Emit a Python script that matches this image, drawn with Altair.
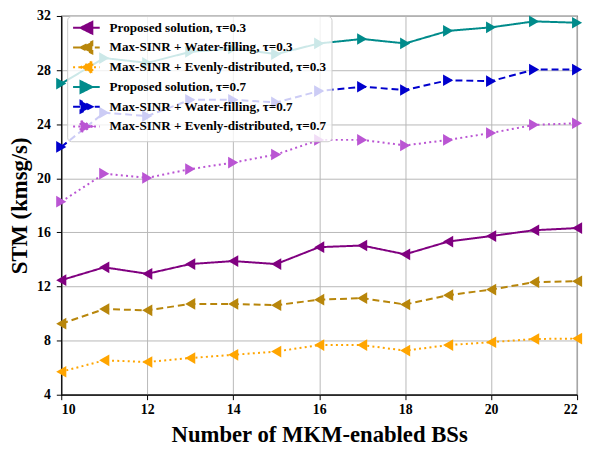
import altair as alt
import pandas as pd

x_vals = [10, 11, 12, 13, 14, 15, 16, 17, 18, 19, 20, 21, 22]

series_names = [
    "Proposed solution, τ=0.3",
    "Max-SINR + Water-filling, τ=0.3",
    "Max-SINR + Evenly-distributed, τ=0.3",
    "Proposed solution, τ=0.7",
    "Max-SINR + Water-filling, τ=0.7",
    "Max-SINR + Evenly-distributed, τ=0.7",
]

prop_03 = [12.47, 13.42, 12.94, 13.66, 13.88, 13.66, 14.91, 15.03, 14.38, 15.32, 15.73, 16.16, 16.32]
wf_03 = [9.25, 10.33, 10.24, 10.71, 10.71, 10.62, 11.03, 11.14, 10.67, 11.36, 11.77, 12.32, 12.39]
even_03 = [5.70, 6.54, 6.42, 6.71, 6.95, 7.19, 7.67, 7.67, 7.26, 7.67, 7.88, 8.12, 8.15]
prop_07 = [27.00, 28.89, 28.53, 29.35, 29.60, 29.18, 29.97, 30.30, 29.97, 30.90, 31.16, 31.60, 31.50]
wf_07 = [22.32, 24.85, 24.60, 25.80, 25.80, 25.61, 26.45, 26.77, 26.53, 27.25, 27.18, 28.04, 28.04]
even_07 = [18.27, 20.34, 20.03, 20.68, 21.16, 21.76, 22.84, 22.84, 22.43, 22.84, 23.35, 23.95, 24.07]

all_series = [prop_03, wf_03, even_03, prop_07, wf_07, even_07]

colors = ["#800080", "#b8860b", "#ffa500", "#008b8b", "#0000cd", "#ba55d3"]
dashes = [[1, 0], [7, 4], [2, 3.3], [1, 0], [7, 4], [2, 3.3]]
shapes = ["triangle-left", "triangle-left", "triangle-left",
          "triangle-right", "triangle-right", "triangle-right"]
# legend symbols: line segment plus triangle (units of 6 px)
tri_l = "M-1,0H3.5M0.25,0L2.25,-1L2.25,1Z"
tri_r = "M-1,0H3.5M2.25,0L0.25,-1L0.25,1Z"
legend_shapes = [tri_l, tri_l, tri_l, tri_r, tri_r, tri_r]

rows = []
for name, vals in zip(series_names, all_series):
    for xv, yv in zip(x_vals, vals):
        rows.append({"x": xv, "y": yv, "series": name})
df = pd.DataFrame(rows)

FONT = "Liberation Serif"

x_enc = alt.X("x:Q", scale=alt.Scale(domain=[10, 22], nice=False, zero=False),
              axis=alt.Axis(values=[10, 12, 14, 16, 18, 20, 22], title="Number of MKM-enabled BSs",
                            format="d", titlePadding=7))
y_enc = alt.Y("y:Q", scale=alt.Scale(domain=[4, 32], nice=False, zero=False),
              axis=alt.Axis(values=[4, 8, 12, 16, 20, 24, 28, 32], title="STM (kmsg/s)",
                            format="d", labelPadding=6, titlePadding=5, titleFontSize=23))

color_scale = alt.Scale(domain=series_names, range=colors)
dash_scale = alt.Scale(domain=series_names, range=dashes)

lines = alt.Chart(df).mark_line(strokeWidth=2).encode(
    x=x_enc, y=y_enc,
    color=alt.Color("series:N", scale=color_scale, legend=None),
    strokeDash=alt.StrokeDash("series:N", scale=dash_scale, legend=None),
    detail="series:N",
)

points = alt.Chart(df).mark_point(filled=True, size=140, opacity=1).encode(
    x=x_enc, y=y_enc,
    color=alt.Color("series:N", scale=color_scale, legend=None),
    shape=alt.Shape("series:N", scale=alt.Scale(domain=series_names, range=shapes), legend=None),
)

leg = alt.Legend(orient="none", legendX=6, legendY=0, zindex=1)
legend_layer = alt.Chart(df).transform_filter("false").mark_point(
    filled=True, size=144, opacity=1, strokeWidth=2
).encode(
    x=x_enc, y=y_enc,
    fill=alt.Fill("series:N", scale=alt.Scale(domain=series_names, range=colors), title=None, legend=leg),
    stroke=alt.Stroke("series:N", scale=alt.Scale(domain=series_names, range=colors), title=None, legend=leg),
    shape=alt.Shape("series:N", scale=alt.Scale(domain=series_names, range=legend_shapes), title=None,
                    legend=leg),
    strokeDash=alt.StrokeDash("series:N", scale=alt.Scale(domain=series_names, range=dashes), title=None,
                              legend=leg),
)

chart = alt.layer(lines, points, legend_layer).resolve_scale(
    color="independent", shape="independent", strokeDash="independent",
    fill="independent", stroke="independent",
).properties(
    width=523, height=384,
    autosize=alt.AutoSizeParams(type="none"),
    padding={"left": 54, "top": 5, "right": 7, "bottom": 56},
).configure_view(
    stroke="#000000", strokeWidth=1.2
).configure_axis(
    labelFont=FONT, labelFontWeight="bold", labelFontSize=14, labelColor="#000000",
    titleFont=FONT, titleFontWeight="bold", titleFontSize=23, titleColor="#000000",
    domainColor="#000000", tickColor="#000000", tickSize=5, domainWidth=1.2,
    gridColor="#b8b8b8", gridWidth=1, labelPadding=3, titlePadding=2,
).configure_legend(
    labelFont=FONT, labelFontWeight="bold", labelFontSize=13.3, labelColor="#000000",
    fillColor="rgba(255,255,255,0.8)", strokeColor="#cccccc", cornerRadius=4,
    padding=5, rowPadding=0, symbolStrokeWidth=2, symbolSize=144, labelOffset=24,
    labelLimit=400, symbolOpacity=1,
)

chart.save("out.html", embed_options={"renderer": "svg", "actions": False})
